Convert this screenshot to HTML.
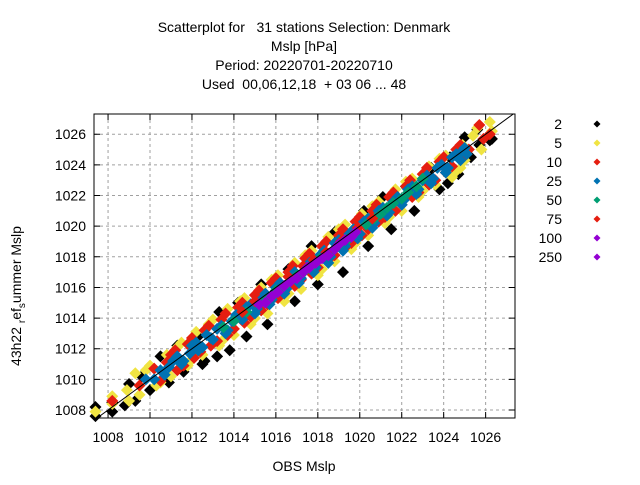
<!DOCTYPE html>
<html><head><meta charset="utf-8"><style>
body{margin:0;background:#fff;}
svg{font-family:"Liberation Sans",sans-serif;}
text{white-space:pre;}
</style></head><body>
<svg id="chart" width="640" height="480" xmlns="http://www.w3.org/2000/svg">
<g font-size="14" text-anchor="middle" fill="#000">
<text x="304" y="32" xml:space="preserve">Scatterplot for   31 stations Selection: Denmark</text>
<text x="304" y="51">Mslp [hPa]</text>
<text x="304" y="70">Period: 20220701-20220710</text>
<text x="304" y="89" xml:space="preserve">Used  00,06,12,18  + 03 06 ... 48</text>
</g>
<g id="grid"></g>
<g id="axes"></g>
<g id="points"></g>
<g id="legend"></g>
<text x="304" y="471" font-size="14" text-anchor="middle">OBS Mslp</text>
<text transform="translate(21,296) rotate(-90)" font-size="14" text-anchor="middle">43h22 <tspan font-size="10" dy="4">r</tspan><tspan dy="-4">ef</tspan><tspan font-size="10" dy="4">s</tspan><tspan dy="-4">ummer Mslp</tspan></text>
</svg>
<script>
const ticks=[1008,1010,1012,1014,1016,1018,1020,1022,1024,1026];
const catLabels=["2","5","10","25","50","75","100","250"];
const catColors=["#000000","#f0e442","#e51e10","#0072b2","#009e73","#e51e10","#9400d3","#9400d3"];
const obs2=[1007.4,1007.4,1008.2,1008.2,1009,1009.3,1009.6,1010,1010.5,1010.9,1011.3,1011.6,1012.3,1012.6,1013.2,1013.3,1013.8,1014.2,1014.6,1015.3,1015.6,1016.6,1016.9,1017.7,1018,1018.8,1019.2,1020.2,1020.4,1021.1,1021.5,1022.2,1022.6,1023.4,1023.8,1024.3,1024.7,1025,1025.3,1025.7,1026.2,1026.3,1025.6,1024.2,1012.5,1008.8];
const mod2=[1007.6,1008.2,1007.9,1008.5,1009.7,1008.6,1010.2,1009.3,1011.5,1009.8,1012.2,1010.5,1012.8,1011.2,1011.5,1014.4,1011.9,1015,1012.8,1016.2,1013.6,1017.2,1015.1,1018.7,1016.2,1019.6,1017,1021,1018.7,1021.9,1019.8,1022.6,1021,1023.8,1022.4,1024.5,1023.4,1025.8,1024.5,1025.3,1025.6,1025.7,1026.3,1022.8,1011,1008.3];
const obs5=[1007.4,1008.2,1008.2,1008.9,1009.3,1009.5,1010.0,1010.3,1010.8,1011.0,1011.5,1011.8,1012.2,1012.5,1013.0,1013.3,1013.7,1014.0,1014.5,1014.8,1015.3,1015.6,1016.1,1016.4,1016.9,1017.2,1017.7,1018.0,1018.5,1018.8,1019.3,1019.6,1020.1,1020.4,1020.9,1021.2,1021.7,1022.0,1022.5,1022.8,1023.3,1023.6,1024.1,1024.4,1024.9,1025.0,1025.6,1026.2,1025.8,1024.8,
 1009.0,1009.8,1010.5,1011.3,1012.0,1012.8,1013.5,1014.3,1015.0,1015.8,1016.6,1017.4,1018.2,1019.0,1019.8,1020.6,1021.4,1022.2,1023.0,1023.8,1024.6,1025.4,1026.3];
const mod5=[1007.9,1008.9,1008.4,1009.3,1010.4,1009.0,1010.9,1009.6,1011.6,1010.2,1012.4,1010.9,1013.1,1011.6,1013.9,1012.2,1014.6,1012.9,1015.3,1013.6,1016.0,1014.3,1016.8,1015.1,1017.6,1015.9,1018.4,1016.8,1019.3,1017.7,1020.1,1018.5,1020.8,1019.4,1021.6,1020.2,1022.4,1021.0,1023.1,1021.9,1023.9,1022.7,1024.6,1023.2,1025.3,1024.3,1026.4,1026.8,1025.0,1023.8,
 1008.6,1010.6,1009.8,1012.1,1011.3,1013.6,1012.6,1015.1,1014.0,1016.5,1015.6,1018.1,1017.2,1019.8,1018.9,1021.3,1020.6,1022.9,1022.3,1024.4,1023.6,1025.9,1026.2];
const obs10=[1008.2,1009.5,1010.2,1010.5,1011.0,1011.3,1011.8,1012.1,1012.6,1012.9,1013.4,1013.7,1014.2,1014.5,1015.0,1015.3,1015.8,1016.1,1016.6,1016.9,1017.4,1017.7,1018.2,1018.5,1019.0,1019.3,1019.8,1020.1,1020.6,1020.9,1021.4,1021.7,1022.2,1022.5,1023.0,1023.3,1023.8,1024.1,1024.6,1025.0,1025.7,1025.9,1026.2,
 1010.8,1011.2,1011.6,1012.0,1012.4,1012.8,1013.2,1013.6,1014.0,1014.4,1014.8,1015.2,1015.6,1016.0,1016.4,1016.8,1017.2,1017.6,1018.0,1018.4,1018.8,1019.2,1019.6,1020.0,1020.4,1020.8,1021.2,1021.6,1022.0,1022.4,1022.8,1023.2,1023.6,1024.0,1024.4,1024.8,1025.2];
const mod10=[1008.6,1009.6,1010.7,1009.9,1011.6,1010.6,1012.3,1011.4,1013.2,1012.2,1013.9,1012.9,1014.7,1013.7,1015.5,1014.5,1016.3,1015.3,1017.0,1016.1,1017.9,1016.9,1018.7,1017.8,1019.4,1018.6,1020.3,1019.4,1021.0,1020.3,1021.9,1021.0,1022.6,1021.9,1023.4,1022.7,1024.2,1023.5,1025.0,1024.6,1026.6,1025.7,1026.0,
 1011.1,1011.9,1010.9,1012.7,1011.8,1013.5,1012.5,1014.3,1013.3,1015.0,1014.1,1015.8,1014.9,1016.6,1015.7,1017.4,1016.5,1018.2,1017.3,1019.0,1018.1,1019.8,1018.9,1020.6,1019.8,1021.4,1020.6,1022.2,1021.4,1023.0,1022.2,1023.8,1023.0,1024.5,1023.9,1025.3,1025.0];
const obs25=[1009.8,1010.5,1010.9,1011.3,1011.6,1012.0,1012.3,1012.7,1013.0,1013.4,1013.7,1014.1,1014.4,1014.8,1015.1,1015.5,1015.8,1016.2,1016.5,1016.9,1017.2,1017.6,1017.9,1018.3,1018.6,1019.0,1019.3,1019.7,1020.0,1020.4,1020.7,1021.1,1021.4,1021.8,1022.1,1022.5,1022.8,1023.2,1023.5,1023.9,1024.2,1024.6,1025.0,1024.8,
 1010.2,1010.7,1011.1,1011.5,1011.9,1012.2,1012.5,1012.9,1013.2,1013.6,1013.9,1014.3,1014.6,1015.0,1015.3,1015.7,1016.0,1016.4,1016.7,1017.1,1017.4,1017.8,1018.1,1018.5,1018.8,1019.2,1019.5,1019.9,1020.2,1020.6,1020.9,1021.3,1021.6,1022.0,1022.3,1022.7,1023.0,1023.4,1023.7,1024.1,1024.4,1024.8,1025.1];
const mod25=[1010.0,1010.6,1010.8,1011.5,1011.2,1012.2,1011.9,1012.9,1012.6,1013.5,1013.2,1014.2,1013.9,1014.9,1014.6,1015.6,1015.2,1016.3,1015.9,1017.0,1016.6,1017.6,1017.3,1018.4,1018.0,1019.1,1018.7,1019.8,1019.5,1020.5,1020.2,1021.2,1020.9,1021.9,1021.7,1022.6,1022.4,1023.3,1023.1,1024.0,1023.8,1024.7,1025.1,1024.3,
 1010.0,1010.3,1011.2,1011.0,1011.7,1012.4,1012.1,1012.7,1013.3,1013.0,1013.8,1014.0,1014.7,1014.3,1015.2,1014.9,1016.0,1015.6,1016.6,1016.3,1017.3,1017.0,1018.1,1017.6,1018.9,1018.4,1019.5,1019.2,1020.3,1019.9,1021.0,1020.7,1021.6,1021.4,1022.4,1022.1,1023.0,1022.8,1023.8,1023.5,1024.5,1024.8,1024.7];
const obs50=[1013.5,1014.6,1015.2,1015.9,1016.6,1017.4,1018.1,1018.8,1019.5,1020.3,1021.0,1021.6,1022.3,1023.0,1016.0,1019.8,1014.0,1015.5,1016.3,1017.0,1017.8,1018.5,1019.1,1020.7,1021.3,1022.0,1022.7];
const mod50=[1013.4,1014.4,1014.9,1015.5,1016.3,1017.1,1017.9,1018.5,1019.2,1020.1,1020.8,1021.5,1022.2,1023.1,1015.8,1019.6,1013.8,1015.2,1016.0,1016.8,1017.5,1018.2,1018.9,1020.5,1021.2,1021.8,1022.6];
const obs75=[1014.4,1015.0,1016.6,1017.3,1018.4,1019.1,1019.9,1020.6,1017.8];
const mod75=[1014.4,1015.1,1016.7,1017.4,1018.3,1019.0,1019.9,1020.5,1017.8];
const obs100=[1015.2,1015.8,1016.4,1017.0,1017.6,1018.2,1018.8,1019.3,1019.8,1015.5,1016.1,1016.7,1017.3,1017.9,1018.5,1019.0,1019.6];
const mod100=[1014.9,1015.4,1016.1,1016.6,1017.3,1017.9,1018.5,1019.1,1019.6,1015.0,1015.7,1016.4,1017.0,1017.6,1018.1,1018.8,1019.3];
const obs250=[1017.5];
const mod250=[1017.3];
const seriesObs=[obs2,obs5,obs10,obs25,obs50,obs75,obs100,obs250];
const seriesMod=[mod2,mod5,mod10,mod25,mod50,mod75,mod100,mod250];

const L=94,R=515,T=114,B=418;
const xMin=1007.33,xMax=1027.4,yMin=1007.48,yMax=1027.32;
const xs=v=>L+(v-xMin)/(xMax-xMin)*(R-L);
const ys=v=>B-(v-yMin)/(yMax-yMin)*(B-T);
const NS="http://www.w3.org/2000/svg";
function mk(tag,attrs,parent){const e=document.createElementNS(NS,tag);for(const k in attrs)e.setAttribute(k,attrs[k]);parent.appendChild(e);return e;}
const grid=document.getElementById('grid'),axes=document.getElementById('axes'),pts=document.getElementById('points'),leg=document.getElementById('legend');
ticks.forEach(t=>{
  const x=xs(t),y=ys(t);
  const gv=mk('line',{x1:x,x2:x,y1:T,y2:B,stroke:'#a0a0a0','stroke-dasharray':'3,3','stroke-width':1},grid);
  
  
  const gh=mk('line',{x1:L,x2:R,y1:y,y2:y,stroke:'#a0a0a0','stroke-dasharray':'3,3','stroke-width':1},grid);
  
  
  mk('path',{d:`M${x},${B}v-6M${x},${T}v6M${L},${y}h6M${R},${y}h-6`,stroke:'#000'},axes);
  const tx=mk('text',{x:x,y:B+24,'font-size':14,'text-anchor':'middle'},axes);
  tx.textContent=t;
  
  
  const ty=mk('text',{x:L-8,y:y+5,'font-size':14,'text-anchor':'end'},axes);
  ty.textContent=t;
  
  
});
const frame=mk('rect',{x:L,y:T,width:R-L,height:B-T,fill:'none',stroke:'#000'},axes);


function diamond(cx,cy,h,col,parent){return mk('path',{d:`M${cx},${cy-h}L${cx+h},${cy}L${cx},${cy+h}L${cx-h},${cy}Z`,fill:col},parent);}
seriesObs.forEach((ob,i)=>{
  ob.forEach((v,j)=>{
    const p=diamond(xs(v),ys(seriesMod[i][j]),6,catColors[i],pts);
    
    
  });
  const ly=124+19*i;
  const lt=mk('text',{x:562,y:ly+5,'font-size':14,'text-anchor':'end'},leg);
  lt.textContent=catLabels[i];
  
  
  const lm=diamond(597,ly,3.5,catColors[i],leg);
  
  
});
const lo=Math.max(xMin,yMin),hi=Math.min(xMax,yMax);
const diag=mk('line',{x1:xs(lo),y1:ys(lo),x2:xs(hi),y2:ys(hi),stroke:'#000','stroke-width':1},pts);


</script>
</body></html>
